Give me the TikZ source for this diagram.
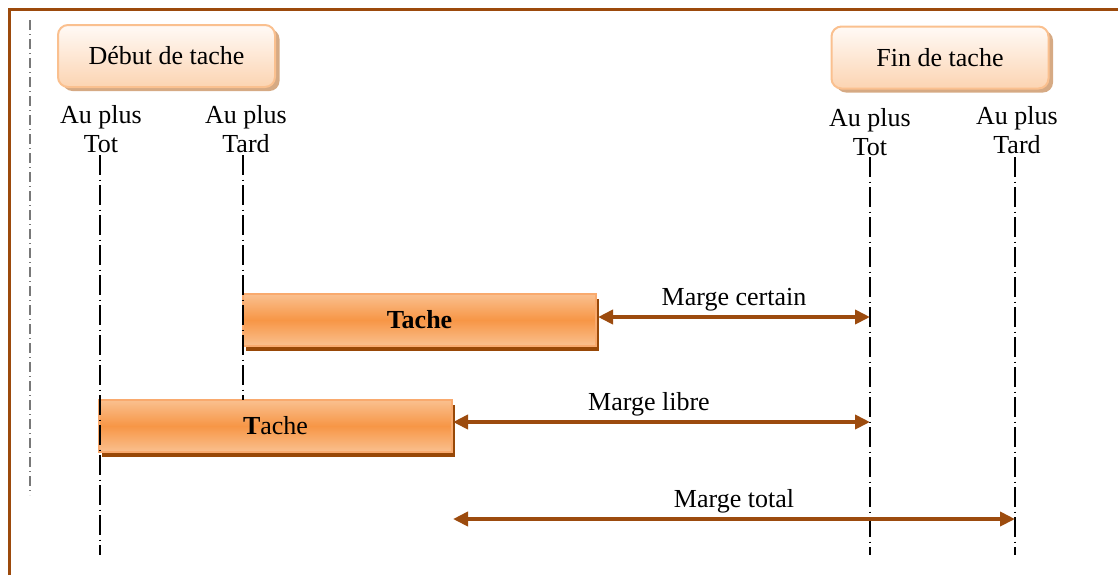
\documentclass[tikz,border=0pt]{standalone}
\usepackage{fontspec}
\setmainfont{Liberation Serif}
\usetikzlibrary{arrows.meta,shadows}

\definecolor{framebrown}{RGB}{156,74,12}
\definecolor{margebrown}{RGB}{156,75,14}
\definecolor{peachline}{RGB}{250,192,143}
\definecolor{peachtop}{RGB}{255,250,246}
\definecolor{peachbot}{RGB}{252,212,178}
\definecolor{peachshadow}{RGB}{214,170,132}
\definecolor{barlight}{RGB}{250,192,143}
\definecolor{barmid}{RGB}{247,150,70}
\definecolor{barline}{RGB}{249,170,110}
\definecolor{barshadow}{RGB}{152,72,7}
\definecolor{guidegray}{RGB}{120,120,120}

\tikzset{
  eventbox/.style={draw=peachline, line width=1pt, rounded corners=5pt,
    top color=peachtop, bottom color=peachbot,
    minimum width=108.5pt, minimum height=31pt, inner sep=0pt,
    drop shadow={shadow xshift=2.25pt, shadow yshift=-2pt, opacity=1, fill=peachshadow}},
  taskbar/.style={draw=barline, line width=0.6pt,
    top color=barlight, bottom color=barlight, middle color=barmid,
    minimum width=176.5pt, minimum height=26pt, inner sep=0pt,
    drop shadow={shadow xshift=1.5pt, shadow yshift=-2.25pt, opacity=1, fill=barshadow}},
  datelabel/.style={align=center, anchor=north, inner sep=0pt},
  dateline/.style={black, line width=0.75pt,
    dash pattern=on 10pt off 2.25pt on 0.5pt off 2.25pt},
  margeboth/.style={margebrown, line width=2pt,
    {Triangle[length=7.5pt,width=7pt]}-{Triangle[length=7.5pt,width=7pt]}},
  margelabel/.style={above=1.5pt, inner sep=0.5pt, text=black}
}

\begin{document}
\begin{tikzpicture}[x=0.5pt, y=-0.5pt, font=\fontsize{13}{14.5}\selectfont]
\useasboundingbox (0,0) rectangle (1118,575);

% outer frame (open on the right and bottom)
\draw[framebrown, line width=1.5pt] (9,575) -- (9,9) -- (1118,9);

% grey guide on the left
\draw[guidegray, line width=1pt, dash pattern=on 5pt off 2pt on 0.5pt off 2pt]
  (30,20) -- (30,495);

% start / end headers
\fill[peachshadow] (167,84) rectangle (176,91);
\fill[peachshadow] (933,86) rectangle (947,92);
\node[eventbox] (debut) at (166.5,56) {Début de tache};
\node[eventbox] (fin) at (940,57.5) {Fin de tache};

% date labels
\node[datelabel] (tot1)  at (101,105)  {Au plus\\Tot};
\node[datelabel] (tard1) at (246,105)  {Au plus\\Tard};
\node[datelabel] (tot2)  at (870,108)  {Au plus\\Tot};
\node[datelabel] (tard2) at (1017,106) {Au plus\\Tard};

% line ends
\coordinate (tot1top)  at (100,155);
\coordinate (tot1bot)  at (100,555);
\coordinate (tard1top) at (243,155);
\coordinate (tard1bot) at (243,400);
\coordinate (tot2top)  at (870,157);
\coordinate (tot2bot)  at (870,555);
\coordinate (tard2top) at (1015,157);
\coordinate (tard2bot) at (1015,555);

% task bars
\node[taskbar] (tacheA) at (419.5,320) {\textbf{Tache}};
\node[taskbar] (tacheB) at (275.5,426) {\textbf{T}ache};

% vertical date lines
\draw[dateline] (tot1top) -- (tot1bot);
\draw[dateline] (tard1top) -- (tard1bot);
\draw[dateline] (tot2top) -- (tot2bot);
\draw[dateline] (tard2top) -- (tard2bot);

% margins
\coordinate (certA) at (598,317);
\coordinate (libA)  at (453,422);
\coordinate (totA)  at (453,519);
\draw[margeboth] (certA) -- (certA -| tot2top)
  node[midway, margelabel] (mcert) {Marge certain};
\draw[margeboth] (libA) -- (libA -| tot2top)
  node[pos=0.47, margelabel] (mlib) {Marge libre};
\draw[margeboth] (totA) -- (totA -| tard2top)
  node[midway, margelabel] (mtot) {Marge total};
\end{tikzpicture}
\end{document}
